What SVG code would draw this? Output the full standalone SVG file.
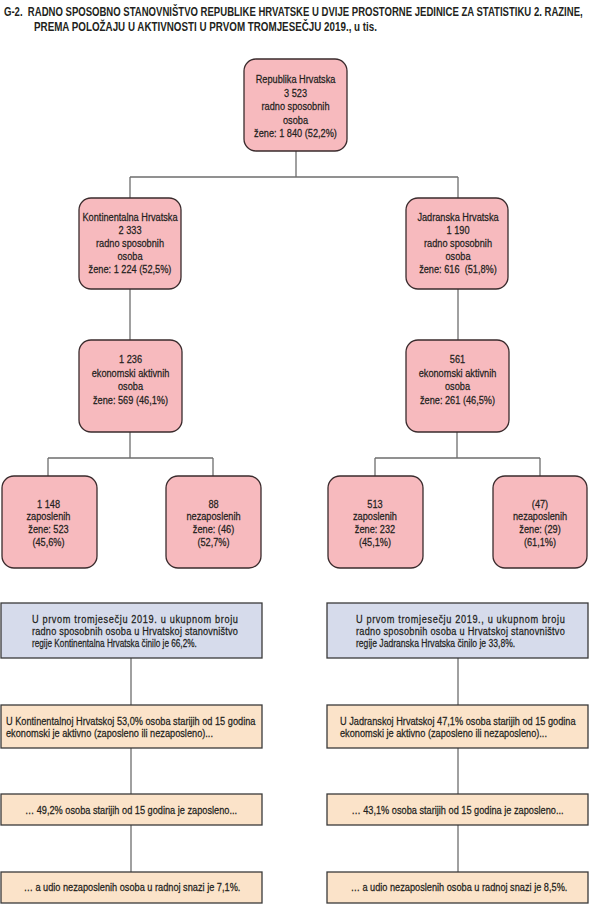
<svg xmlns="http://www.w3.org/2000/svg" width="591" height="922" viewBox="0 0 591 922">
<style>
.bg{fill:#ffffff}
.title{font-family:"Liberation Sans",Arial,sans-serif;font-weight:bold;font-size:13px;fill:#231f20}
.t{font-family:"Liberation Sans",Arial,sans-serif;font-size:11.5px;fill:#231f20;stroke:#231f20;stroke-width:0.25px}
.m{text-anchor:middle}
.pink{fill:#f7babe;stroke:#3a2b2d;stroke-width:1.3}
.blue{fill:#d6dbeb;stroke:#3a3a3a;stroke-width:1.3}
.peach{fill:#fbe3c9;stroke:#3a3a3a;stroke-width:1.3}
.conn{fill:none;stroke:#6e6e6e;stroke-width:1.3}
</style>
<rect class="bg" x="0" y="0" width="591" height="922"/>
<g id="title">
<text class="title" transform="translate(4,16) scale(0.74,1)" x="0" y="0" textLength="782" lengthAdjust="spacingAndGlyphs">G-2.&#160; RADNO SPOSOBNO STANOVNIŠTVO REPUBLIKE HRVATSKE U DVIJE PROSTORNE JEDINICE ZA STATISTIKU 2. RAZINE,</text>
<text class="title" transform="translate(34,31) scale(0.74,1)" x="0" y="0" textLength="463.5" lengthAdjust="spacingAndGlyphs">PREMA POLOŽAJU U AKTIVNOSTI U PRVOM TROMJESEČJU 2019., u tis.</text>
</g>
<g id="connectors">
<path class="conn" d="M296 151V177M130 177H458M130 177V198M458 177V198"/>
<path class="conn" d="M130 289V340M458 289V340"/>
<path class="conn" d="M130 432V458M48 458H213M48 458V476M213 458V476"/>
<path class="conn" d="M457 432V458M375 458H540M375 458V476M540 458V476"/>
<path class="conn" d="M131 658V705M458 658V705"/>
<path class="conn" d="M131 748V794M458 748V794"/>
<path class="conn" d="M131 825V872M458 825V872"/>
</g>
<g id="n-hr">
<rect class="pink" x="244" y="59" width="103" height="92" rx="12"/>
<text class="t m" transform="translate(295.5,0) scale(0.8,1)"><tspan x="0" y="83">Republika Hrvatska</tspan><tspan x="0" y="97">3 523</tspan><tspan x="0" y="110.5">radno sposobnih</tspan><tspan x="0" y="124">osoba</tspan><tspan x="0" y="137.5">žene: 1 840 (52,2%)</tspan></text>
</g>
<g id="n-kont">
<rect class="pink" x="79" y="198" width="102" height="91" rx="12"/>
<text class="t m" transform="translate(130,0) scale(0.8,1)"><tspan x="0" y="221">Kontinentalna Hrvatska</tspan><tspan x="0" y="234.5">2 333</tspan><tspan x="0" y="247.5">radno sposobnih</tspan><tspan x="0" y="260.5">osoba</tspan><tspan x="0" y="273.5">žene: 1 224 (52,5%)</tspan></text>
</g>
<g id="n-jadr">
<rect class="pink" x="406" y="198" width="102" height="91" rx="12"/>
<text class="t m" transform="translate(458,0) scale(0.8,1)"><tspan x="0" y="221">Jadranska Hrvatska</tspan><tspan x="0" y="234.5">1 190</tspan><tspan x="0" y="247.5">radno sposobnih</tspan><tspan x="0" y="260.5">osoba</tspan><tspan x="0" y="273.5">žene: 616&#160; (51,8%)</tspan></text>
</g>
<g id="n-kont-akt">
<rect class="pink" x="79" y="340" width="103" height="92" rx="12"/>
<text class="t m" transform="translate(130.5,0) scale(0.8,1)"><tspan x="0" y="363">1 236</tspan><tspan x="0" y="377">ekonomski aktivnih</tspan><tspan x="0" y="390.5">osoba</tspan><tspan x="0" y="404.5">žene: 569 (46,1%)</tspan></text>
</g>
<g id="n-jadr-akt">
<rect class="pink" x="406" y="340" width="103" height="92" rx="12"/>
<text class="t m" transform="translate(457.5,0) scale(0.8,1)"><tspan x="0" y="363">561</tspan><tspan x="0" y="377">ekonomski aktivnih</tspan><tspan x="0" y="390.5">osoba</tspan><tspan x="0" y="404.5">žene: 261 (46,5%)</tspan></text>
</g>
<g id="n-kont-zap">
<rect class="pink" x="2" y="476" width="95" height="92" rx="12"/>
<text class="t m" transform="translate(48.5,0) scale(0.8,1)"><tspan x="0" y="508">1 148</tspan><tspan x="0" y="520.5">zaposlenih</tspan><tspan x="0" y="533">žene: 523</tspan><tspan x="0" y="546">(45,6%)</tspan></text>
</g>
<g id="n-kont-nez">
<rect class="pink" x="166" y="476" width="95" height="92" rx="12"/>
<text class="t m" transform="translate(213.5,0) scale(0.8,1)"><tspan x="0" y="508">88</tspan><tspan x="0" y="520.5">nezaposlenih</tspan><tspan x="0" y="533">žene: (46)</tspan><tspan x="0" y="546">(52,7%)</tspan></text>
</g>
<g id="n-jadr-zap">
<rect class="pink" x="328" y="476" width="95" height="92" rx="12"/>
<text class="t m" transform="translate(375,0) scale(0.8,1)"><tspan x="0" y="508">513</tspan><tspan x="0" y="520.5">zaposlenih</tspan><tspan x="0" y="533">žene: 232</tspan><tspan x="0" y="546">(45,1%)</tspan></text>
</g>
<g id="n-jadr-nez">
<rect class="pink" x="493" y="476" width="94" height="92" rx="12"/>
<text class="t m" transform="translate(540,0) scale(0.8,1)"><tspan x="0" y="508">(47)</tspan><tspan x="0" y="520.5">nezaposlenih</tspan><tspan x="0" y="533">žene: (29)</tspan><tspan x="0" y="546">(61,1%)</tspan></text>
</g>
<g id="b-kont">
<rect class="blue" x="1" y="603" width="261" height="55"/>
<text class="t" transform="translate(32,0) scale(0.8,1)" x="0" y="623" textLength="257.5" lengthAdjust="spacing">U prvom tromjesečju 2019. u ukupnom broju</text>
<text class="t" transform="translate(32,0) scale(0.8,1)" x="0" y="635" textLength="257.5" lengthAdjust="spacing">radno sposobnih osoba u Hrvatskoj stanovništvo</text>
<text class="t" transform="translate(32,0) scale(0.8,1)" x="0" y="647" textLength="206" lengthAdjust="spacingAndGlyphs">regije Kontinentalna Hrvatska činilo je 66,2%.</text>
</g>
<g id="b-jadr">
<rect class="blue" x="327" y="603" width="261" height="55"/>
<text class="t" transform="translate(356,0) scale(0.8,1)" x="0" y="623" textLength="261" lengthAdjust="spacing">U prvom tromjesečju 2019., u ukupnom broju</text>
<text class="t" transform="translate(356,0) scale(0.8,1)" x="0" y="635" textLength="261" lengthAdjust="spacing">radno sposobnih osoba u Hrvatskoj stanovništvo</text>
<text class="t" transform="translate(356,0) scale(0.8,1)" x="0" y="647" textLength="199" lengthAdjust="spacingAndGlyphs">regije Jadranska Hrvatska činilo je 33,8%.</text>
</g>
<g id="o1-kont">
<rect class="peach" x="1" y="705" width="261" height="43"/>
<text class="t" transform="translate(6,0) scale(0.8,1)"><tspan x="0" y="725">U Kontinentalnoj Hrvatskoj 53,0% osoba starijih od 15 godina</tspan><tspan x="0" y="737.5">ekonomski je aktivno (zaposleno ili nezaposleno)...</tspan></text>
</g>
<g id="o1-jadr">
<rect class="peach" x="327" y="705" width="261" height="43"/>
<text class="t" transform="translate(340,0) scale(0.8,1)"><tspan x="0" y="725">U Jadranskoj Hrvatskoj 47,1% osoba starijih od 15 godina</tspan><tspan x="0" y="737.5">ekonomski je aktivno (zaposleno ili nezaposleno)...</tspan></text>
</g>
<g id="o2-kont">
<rect class="peach" x="1" y="794" width="261" height="31"/>
<text class="t m" transform="translate(131,0) scale(0.8,1)" x="0" y="814">… 49,2% osoba starijih od 15 godina je zaposleno...</text>
</g>
<g id="o2-jadr">
<rect class="peach" x="327" y="794" width="261" height="31"/>
<text class="t m" transform="translate(457.5,0) scale(0.8,1)" x="0" y="814">… 43,1% osoba starijih od 15 godina je zaposleno...</text>
</g>
<g id="o3-kont">
<rect class="peach" x="1" y="872" width="261" height="31"/>
<text class="t m" transform="translate(132,0) scale(0.8,1)" x="0" y="891">… a udio nezaposlenih osoba u radnoj snazi je 7,1%.</text>
</g>
<g id="o3-jadr">
<rect class="peach" x="327" y="872" width="261" height="31"/>
<text class="t m" transform="translate(459,0) scale(0.8,1)" x="0" y="891">… a udio nezaposlenih osoba u radnoj snazi je 8,5%.</text>
</g>
</svg>
